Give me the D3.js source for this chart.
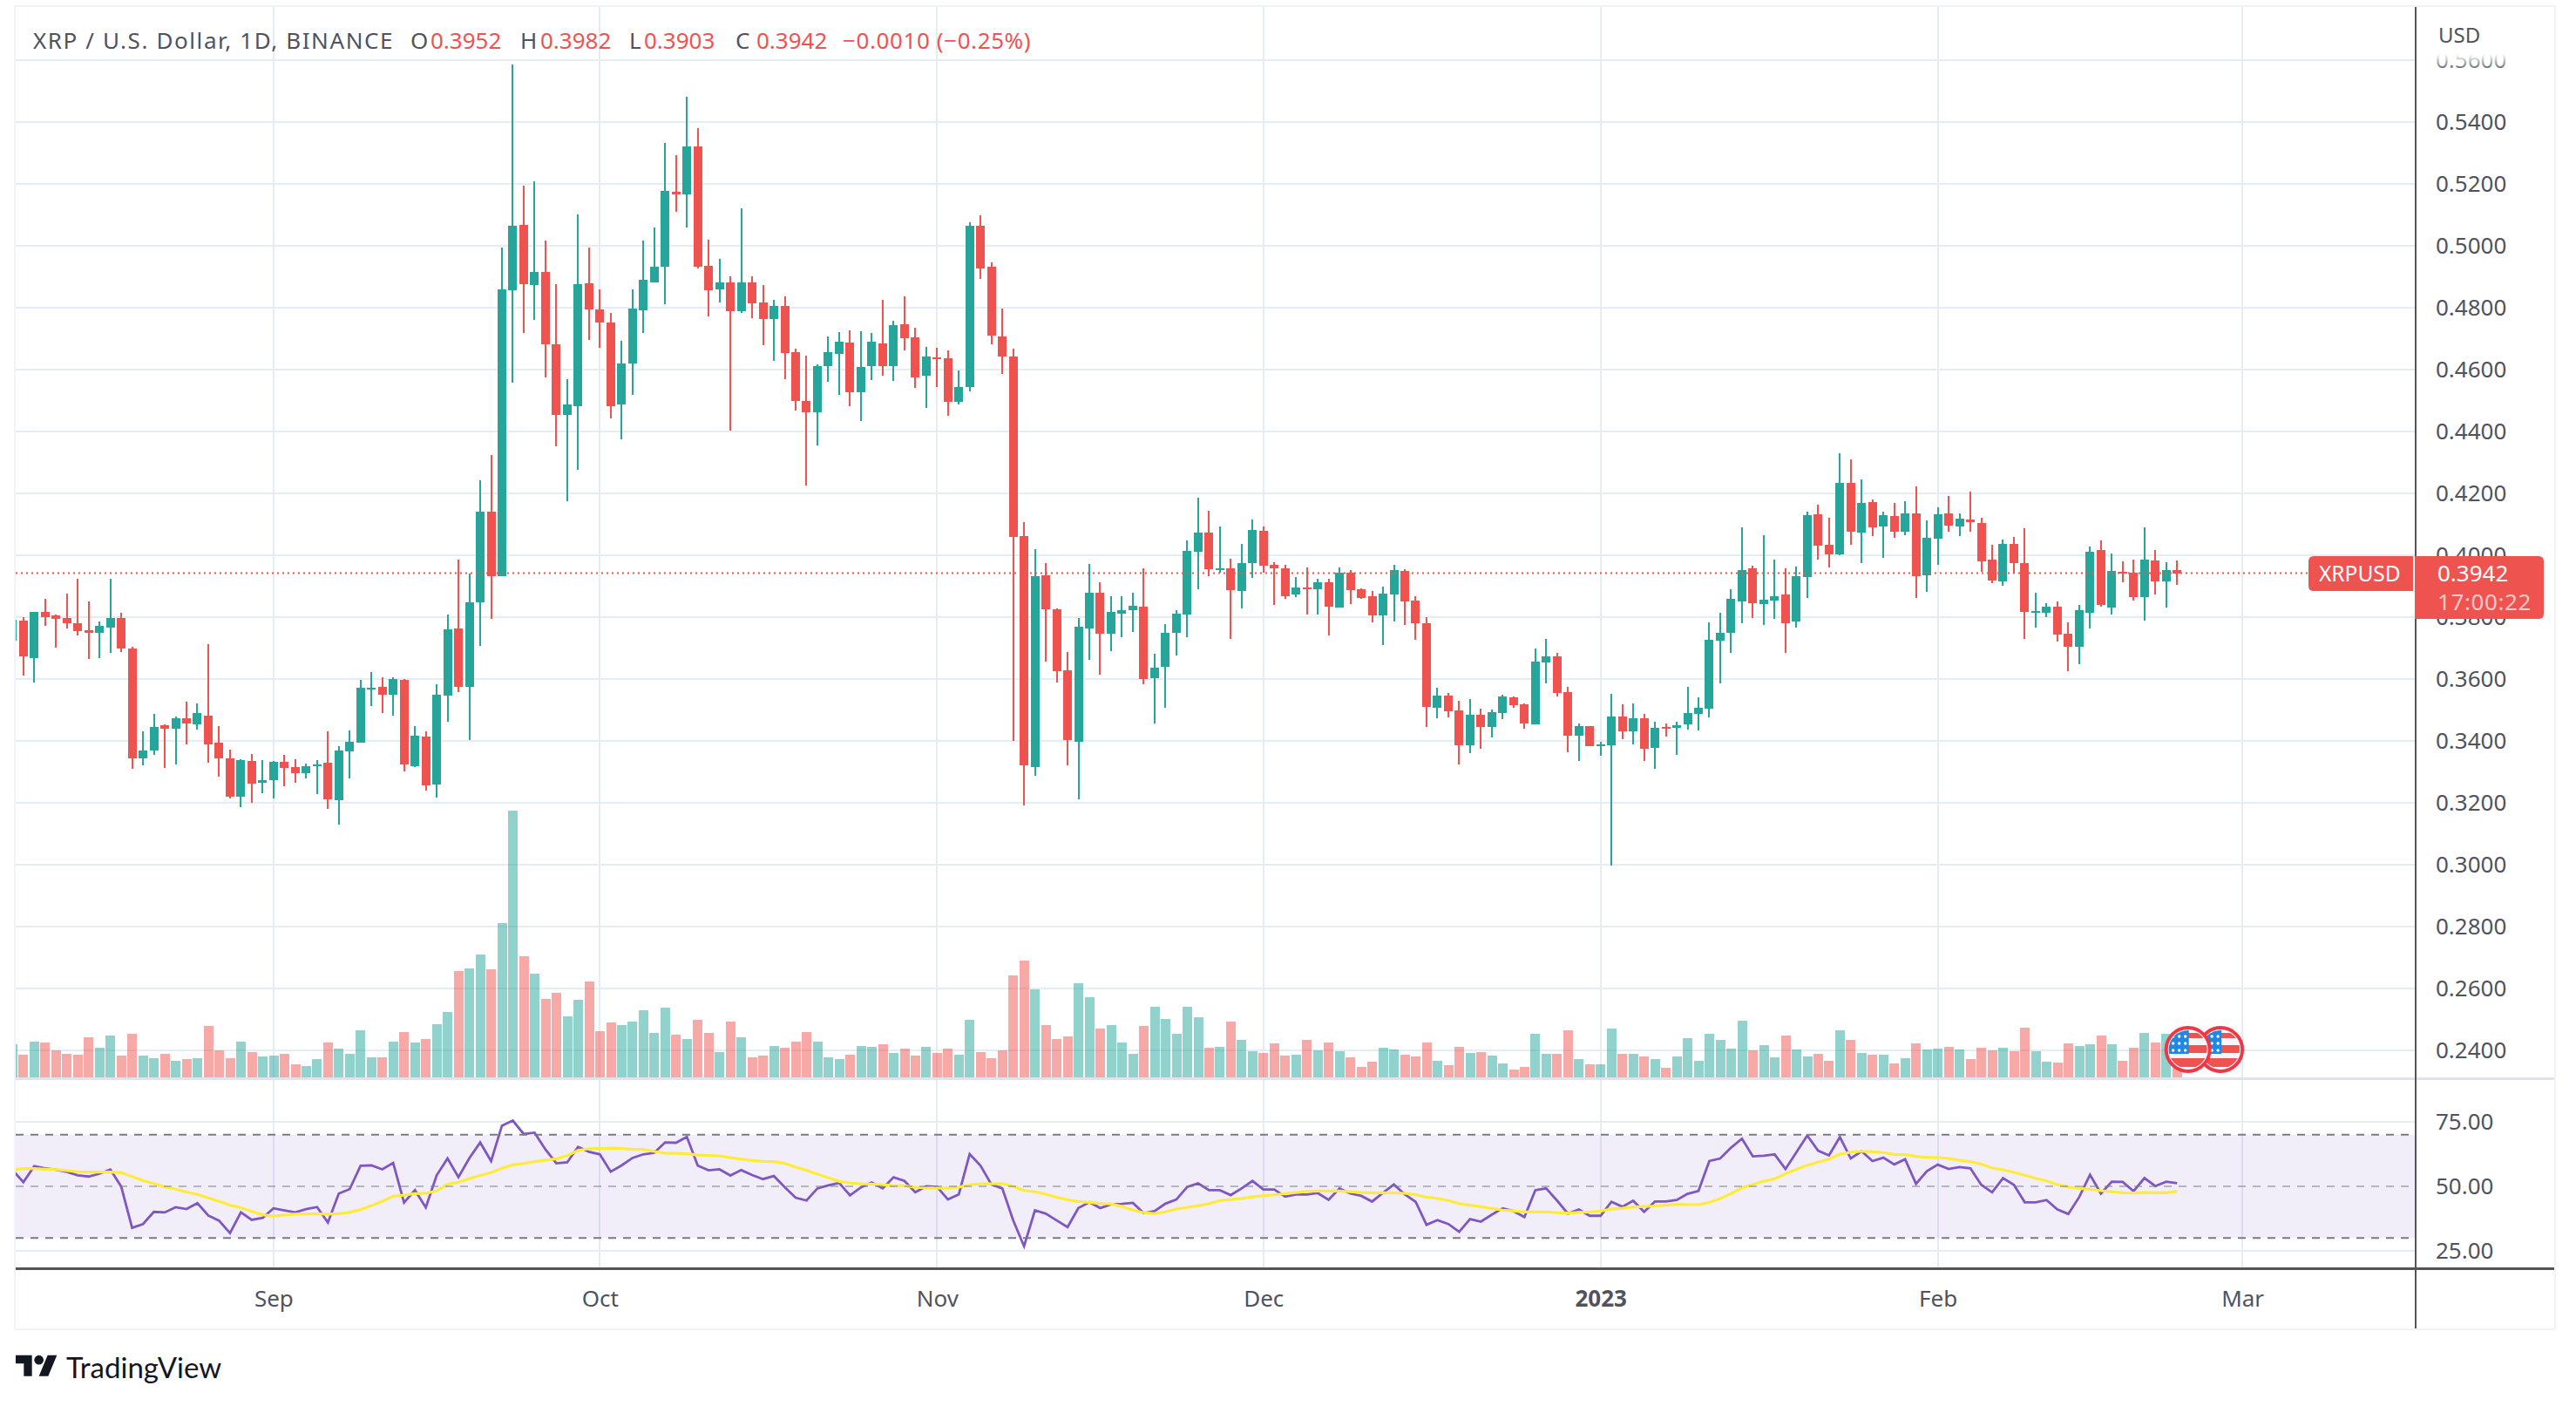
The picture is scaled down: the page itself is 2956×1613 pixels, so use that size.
<!DOCTYPE html>
<html><head><meta charset="utf-8">
<script src="https://cdn.jsdelivr.net/npm/d3@7/dist/d3.min.js"></script>
<style>html,body{margin:0;padding:0;background:#fff;overflow:hidden}svg{display:block}text{font-family:"Noto Sans",sans-serif}</style>
</head><body><svg id="c" width="2956" height="1613"></svg>
<script>
const firstDay = "2022-08-08";
const opens = [
.3723,.3789,.3667,.3816,.3805,.3796,.3780,.3757,.3750,.3766,
.3796,.3698,.3345,.3369,.3450,.3439,.3473,.3453,.3482,.3394,
.3345,.3221,.3335,.3266,.3274,.3333,.3315,.3295,.3320,.3329,
.3209,.3365,.3394,.3565,.3574,.3548,.3597,.3319,.3414,.3259,
.3547,.3762,.3574,.3849,.4141,.3933,.4856,.5067,.4873,.4915,
.4681,.4453,.4481,.4878,.4794,.4751,.4487,.4621,.4791,.4881,
.4931,.5174,.5166,.5322,.4936,.4859,.4881,.4788,.4883,.4817,
.4762,.4807,.4655,.4500,.4461,.4610,.4650,.4686,.4526,.4610,
.4684,.4610,.4746,.4703,.4579,.4640,.4636,.4495,.4543,.5064,
.4932,.4706,.4641,.4062,.3315,.3935,.3825,.3627,.3397,.3763,
.3880,.3746,.3811,.3822,.3833,.3602,.3639,.3748,.3808,.4011,
.4072,.3954,.3959,.3884,.3974,.4078,.3969,.3958,.3873,.3896,
.3890,.3913,.3831,.3944,.3890,.3868,.3806,.3873,.3949,.3854,
.3780,.3507,.3546,.3499,.3386,.3484,.3445,.3490,.3541,.3518,
.3453,.3654,.3673,.3558,.3417,.3448,.3382,.3386,.3479,.3431,
.3473,.3377,.3445,.3443,.3453,.3487,.3504,.3724,.3749,.3851,
.3958,.3842,.3854,.3873,.3786,.3930,.4132,.4034,.4003,.4234,
.4073,.4172,.4093,.4127,.4076,.4135,.3935,.4054,.4135,.4093,
.4115,.4104,.3986,.3915,.4037,.3975,.3814,.3814,.3834,.3746,
.3704,.3814,.4017,.3831,.3946,.3944,.3865,.3983,.3915,.3952];
const highs = [
.3805,.3800,.3816,.3859,.3809,.3875,.3924,.3850,.3786,.3924,
.3814,.3705,.3430,.3487,.3453,.3478,.3527,.3522,.3712,.3448,
.3372,.3342,.3358,.3338,.3335,.3354,.3340,.3326,.3338,.3430,
.3383,.3433,.3597,.3622,.3606,.3606,.3601,.3448,.3430,.3583,
.3809,.3985,.3940,.4242,.4325,.4995,.5586,.5194,.5209,.5016,
.4875,.4568,.5101,.4993,.4859,.4783,.4692,.4859,.5016,.5058,
.5331,.5292,.5482,.5379,.5019,.4957,.4901,.5121,.4901,.4872,
.4825,.4838,.4667,.4644,.4616,.4707,.4720,.4727,.4724,.4717,
.4825,.4758,.4837,.4734,.4672,.4670,.4662,.4597,.5076,.5100,
.4946,.4796,.4667,.4107,.4021,.3976,.3827,.3686,.3796,.3971,
.3912,.3868,.3868,.3878,.3959,.3681,.3777,.3822,.4047,.4186,
.4143,.4093,.3988,.4038,.4115,.4093,.3977,.3969,.3930,.3961,
.3924,.3924,.3961,.3952,.3893,.3885,.3899,.3969,.3955,.3868,
.3800,.3572,.3555,.3530,.3535,.3504,.3501,.3549,.3544,.3521,
.3699,.3730,.3684,.3575,.3456,.3448,.3397,.3552,.3518,.3521,
.3487,.3462,.3456,.3462,.3575,.3541,.3783,.3814,.3890,.4090,
.3966,.4065,.3986,.3958,.3963,.4141,.4163,.4121,.4330,.4310,
.4245,.4180,.4141,.4169,.4175,.4223,.4113,.4155,.4192,.4135,
.4206,.4121,.4034,.4051,.4059,.4087,.3879,.3845,.3851,.3783,
.3839,.4028,.4048,.4006,.3980,.3986,.4090,.4017,.3977,.3982];
const lows = [
.3700,.3611,.3588,.3771,.3701,.3762,.3741,.3665,.3667,.3685,
.3687,.3310,.3320,.3354,.3313,.3324,.3389,.3437,.3329,.3284,
.3214,.3186,.3200,.3230,.3214,.3254,.3265,.3279,.3229,.3180,
.3130,.3279,.3394,.3513,.3489,.3482,.3301,.3315,.3239,.3216,
.3462,.3557,.3403,.3707,.3795,.3933,.4558,.4718,.4761,.4576,
.4352,.4174,.4276,.4696,.4670,.4442,.4374,.4518,.4718,.4881,
.4810,.5111,.5058,.4927,.4772,.4818,.4402,.4783,.4765,.4678,
.4628,.4568,.4469,.4226,.4355,.4560,.4518,.4481,.4435,.4566,
.4579,.4562,.4662,.4540,.4476,.4543,.4450,.4487,.4529,.4892,
.4681,.4586,.3399,.3191,.3287,.3655,.3588,.3320,.3210,.3662,
.3614,.3689,.3734,.3751,.3583,.3456,.3507,.3675,.3734,.3890,
.3932,.3943,.3729,.3827,.3928,.3943,.3839,.3859,.3865,.3808,
.3808,.3741,.3831,.3842,.3859,.3783,.3710,.3786,.3775,.3727,
.3445,.3473,.3476,.3324,.3361,.3375,.3411,.3470,.3507,.3439,
.3453,.3586,.3544,.3363,.3335,.3383,.3352,.2997,.3406,.3389,
.3335,.3310,.3414,.3355,.3437,.3434,.3476,.3586,.3684,.3780,
.3797,.3775,.3794,.3684,.3766,.3862,.3986,.3961,.4000,.4034,
.3975,.4062,.3992,.4056,.4065,.3862,.3882,.3969,.4076,.4062,
.4076,.3946,.3910,.3901,.3941,.3730,.3766,.3800,.3721,.3625,
.3648,.3763,.3834,.3808,.3913,.3854,.3789,.3873,.3831,.3903];
const closes = [
.3791,.3672,.3816,.3800,.3795,.3780,.3755,.3750,.3771,.3796,
.3698,.3344,.3369,.3444,.3439,.3473,.3457,.3489,.3390,.3344,
.3220,.3338,.3261,.3274,.3333,.3313,.3295,.3319,.3324,.3211,
.3369,.3398,.3572,.3572,.3548,.3601,.3324,.3417,.3256,.3548,
.3760,.3574,.3849,.4141,.3933,.4858,.5065,.4876,.4916,.4681,
.4453,.4487,.4875,.4794,.4751,.4481,.4621,.4796,.4889,.4931,
.5177,.5167,.5322,.4931,.4856,.4881,.4788,.4883,.4814,.4762,
.4805,.4654,.4500,.4461,.4610,.4655,.4689,.4526,.4608,.4689,
.4610,.4743,.4701,.4576,.4641,.4635,.4495,.4545,.5064,.4926,
.4710,.4641,.4059,.3320,.3932,.3825,.3624,.3402,.3768,.3880,
.3746,.3816,.3822,.3836,.3600,.3636,.3748,.3811,.4014,.4072,
.3954,.3959,.3887,.3976,.4081,.3966,.3958,.3868,.3896,.3890,
.3913,.3834,.3943,.3887,.3862,.3806,.3876,.3952,.3851,.3780,
.3510,.3546,.3496,.3386,.3484,.3445,.3493,.3544,.3515,.3456,
.3656,.3673,.3555,.3417,.3448,.3383,.3388,.3479,.3431,.3473,
.3375,.3442,.3439,.3451,.3490,.3507,.3727,.3749,.3859,.3952,
.3845,.3856,.3868,.3780,.3932,.4130,.4031,.4003,.4234,.4076,
.4169,.4090,.4130,.4076,.4135,.3932,.4056,.4132,.4096,.4118,
.4107,.3980,.3918,.4037,.3975,.3817,.3820,.3834,.3744,.3704,
.3823,.4011,.3839,.3949,.3941,.3865,.3986,.3915,.3952,.3942];
const volumes = [
115,78,123,120,93,81,78,138,102,144,
75,150,75,66,81,57,63,66,177,93,
66,123,87,72,75,81,45,39,63,120,
99,81,162,69,69,123,156,120,132,183,
225,366,375,423,372,531,918,417,357,270,
291,210,267,330,159,189,180,192,231,153,
240,147,132,198,153,87,192,138,69,75,
108,102,123,156,123,69,63,78,108,105,
114,84,99,75,105,84,99,78,198,87,
66,93,351,402,303,180,132,141,324,276,
168,180,120,81,177,243,201,150,243,207,
102,105,192,129,90,84,117,75,78,129,
93,120,90,69,36,54,102,96,78,72,
120,57,42,105,84,87,75,48,27,36,
150,81,81,162,63,45,45,168,81,81,
72,63,33,72,135,57,150,129,99,195,
93,111,69,144,96,72,81,57,162,129,
84,78,78,48,66,117,96,99,105,96,
63,102,93,102,90,171,90,54,51,117,
108,114,144,114,57,102,153,120,150,63];
const rsi = [
56.4,51.6,57.8,57.0,56.5,55.6,54.3,53.8,54.9,56.5,
49.9,33.9,35.4,40.1,39.9,41.9,41.2,43.5,38.7,36.7,
31.9,39.9,37.0,37.8,41.5,40.7,39.9,41.2,42.0,36.0,
47.2,48.9,58.0,58.1,56.6,59.1,43.7,48.5,41.8,54.3,
60.8,53.6,60.9,67.0,59.8,73.5,75.5,70.3,70.8,64.3,
58.9,59.3,65.3,63.4,62.4,55.7,58.1,61.0,62.4,63.0,
67.0,66.9,69.2,58.0,56.2,56.6,54.2,56.3,54.4,52.8,
54.0,49.7,45.6,44.5,49.2,50.4,51.3,46.5,49.6,51.5,
49.2,53.5,52.1,47.7,50.0,49.8,44.9,46.9,62.5,58.0,
50.7,49.2,36.8,26.8,40.7,39.4,36.8,34.2,41.6,43.8,
41.6,43.0,43.2,43.6,39.6,40.4,43.3,44.9,49.8,51.2,
48.5,48.5,46.6,49.2,52.1,48.8,48.8,46.0,46.8,46.8,
47.4,44.8,49.2,47.2,46.3,44.1,47.5,50.7,46.9,44.0,
35.1,36.9,35.4,32.4,37.3,36.3,39.0,41.5,40.4,38.1,
48.5,49.2,44.5,39.4,41.0,38.6,38.6,44.0,42.1,44.4,
40.1,44.1,44.1,44.7,47.1,48.2,59.8,60.8,65.0,68.5,
61.6,61.9,62.4,56.7,63.2,69.7,63.8,62.0,69.1,60.8,
63.6,59.8,61.1,58.5,60.5,51.0,55.9,58.4,56.7,57.5,
57.0,50.6,47.7,53.2,50.6,43.8,43.8,44.7,41.0,39.3,
45.8,54.5,47.2,51.8,51.7,48.1,53.2,50.1,51.8,51.2];
const rsiMA = [
56.4,56.9,56.9,56.6,56.5,56.1,55.7,55.5,55.5,55.5,
55.3,53.8,52.2,51.1,49.8,48.9,47.8,46.9,45.5,44.2,
42.7,41.7,40.3,39.0,38.5,38.9,39.2,39.3,39.3,39.2,
39.4,39.9,41.0,42.6,44.2,46.2,46.6,47.2,47.3,48.2,
50.8,51.6,53.0,54.2,55.3,57.0,58.3,58.9,59.6,60.2,
60.7,61.9,63.9,64.6,64.7,64.8,64.7,64.3,64.3,63.5,
62.9,62.8,62.6,62.1,62.0,61.8,61.1,60.6,60.0,59.7,
59.6,58.9,57.4,56.2,54.7,53.4,51.9,51.3,51.0,50.9,
50.6,50.3,50.2,49.7,49.4,49.4,49.3,49.7,50.6,51.0,
51.0,51.1,50.0,48.4,47.9,46.9,45.8,44.8,44.1,43.8,
43.4,43.2,42.2,40.8,39.8,39.4,40.1,41.2,41.8,42.5,
43.3,44.5,44.9,45.3,45.9,46.4,46.7,47.2,47.6,48.0,
48.2,48.2,48.2,47.9,47.6,47.5,47.5,47.5,47.3,46.8,
45.8,45.3,44.5,43.3,42.7,42.1,41.4,40.8,40.5,40.1,
40.1,40.1,39.8,39.6,39.9,40.1,40.4,41.2,41.5,42.0,
42.2,42.4,42.7,43.0,42.9,42.9,43.8,45.3,47.2,49.4,
50.7,52.0,52.9,54.9,56.6,58.2,59.4,60.5,62.5,63.2,
63.6,63.4,63.1,62.4,62.3,61.6,61.2,61.2,60.8,60.1,
59.6,58.6,57.1,56.4,55.4,54.3,53.1,52.1,50.7,49.8,
49.2,48.9,48.3,47.9,47.5,47.4,47.6,47.5,47.5,48.1];
const priceTicks = [.24,.26,.28,.30,.32,.34,.36,.38,.40,.42,.44,.46,.48,.50,.52,.54,.56];
const rsiTicks = [25,50,75];
const rsiLevels = [70,50,30];
const timeTicks = ["2022-09-01","2022-10-01","2022-11-01","2022-12-01","2023-01-01","2023-02-01","2023-03-01"];
const timeLabels = ["Sep","Oct","Nov","Dec","2023","Feb","Mar"];
const eventDays = ["2023-02-27","2023-02-24"];
const lastPrice = 0.3942;
const legendHead = "XRP / U.S. Dollar, 1D, BINANCE";
const legendOHLC = [["O","0.3952"],["H","0.3982"],["L","0.3903"],["C","0.3942"]];
const legendChange = "\u22120.0010 (\u22120.25%)";

const UP="#26a69a",DOWN="#ef5350",GRID="#e4edf4",AXIS="#50535e",TXT="#50535e",BORDER="#f0f3fa";
const fs=26;
const L=18,R=2771,RR=2931,T=8,B=1524;
const day=s=>new Date(s+"T00:00:00Z");
const t0=day(firstDay);
const dates=opens.map((_,i)=>d3.utcDay.offset(t0,i));
const x=d3.scaleUtc().domain([t0,day("2023-03-01")]).range([14.3,2573.1]);
const y=d3.scaleLinear().domain([.30,.42]).range([992,566]);
const yV=d3.scaleLinear().domain([0,918]).range([1236,930]);
const yR=d3.scaleLinear().domain([25,75]).range([1435,1287]);
const svg=d3.select("#c");
const defs=svg.append("defs");
defs.append("clipPath").attr("id","plot").append("rect").attr("x",L).attr("y",T).attr("width",R-L).attr("height",B-T);
const g=defs.append("linearGradient").attr("id","fade").attr("x1",0).attr("x2",0).attr("y1",0).attr("y2",1);
g.append("stop").attr("offset",0).attr("stop-color","#fff").attr("stop-opacity",1);
g.append("stop").attr("offset",1).attr("stop-color","#fff").attr("stop-opacity",0);

// grid
const grid=svg.append("g").attr("stroke",GRID).attr("stroke-width",2).attr("shape-rendering","crispEdges");
grid.selectAll(".gh").data(priceTicks).join("line").attr("x1",L).attr("x2",R).attr("y1",d=>y(d)).attr("y2",d=>y(d));
grid.selectAll(".gr").data(rsiTicks.filter(d=>d!=50)).join("line").attr("x1",L).attr("x2",R).attr("y1",d=>yR(d)).attr("y2",d=>yR(d));
grid.selectAll(".gv").data(timeTicks).join("line").attr("y1",T).attr("y2",1455).attr("x1",d=>x(day(d))).attr("x2",d=>x(day(d)));

// RSI band
svg.append("rect").attr("x",L).attr("width",R-L).attr("y",yR(70)).attr("height",yR(30)-yR(70)).attr("fill","#7e57c2").attr("fill-opacity",.1);

const plot=svg.append("g").attr("clip-path","url(#plot)");
// volume
plot.append("g").attr("shape-rendering","crispEdges").selectAll("rect").data(volumes).join("rect")
 .attr("x",(d,i)=>Math.round(x(dates[i])-5.3)).attr("width",11)
 .attr("y",d=>yV(d)).attr("height",d=>yV(0)-yV(d))
 .attr("fill",(d,i)=>closes[i]>=opens[i]?UP:DOWN).attr("fill-opacity",.5);
// candles
const cg=plot.append("g").attr("shape-rendering","crispEdges");
const col=i=>closes[i]>=opens[i]?UP:DOWN;
cg.selectAll(".w").data(opens).join("rect")
 .attr("x",(d,i)=>Math.round(x(dates[i])-1)).attr("width",2)
 .attr("y",(d,i)=>y(highs[i])).attr("height",(d,i)=>y(lows[i])-y(highs[i])).attr("fill",(d,i)=>col(i));
cg.selectAll(".b").data(opens).join("rect")
 .attr("x",(d,i)=>Math.round(x(dates[i])-1)-4).attr("width",10)
 .attr("y",(d,i)=>y(Math.max(d,closes[i]))).attr("height",(d,i)=>Math.max(2,Math.abs(y(d)-y(closes[i])))).attr("fill",(d,i)=>col(i));
// last price line
svg.append("line").attr("x1",L).attr("x2",2649).attr("y1",y(lastPrice)).attr("y2",y(lastPrice))
 .attr("stroke",DOWN).attr("stroke-width",2).attr("stroke-dasharray","2 4");

// RSI levels
svg.append("g").selectAll("line").data(rsiLevels).join("line").attr("x1",L).attr("x2",R)
 .attr("y1",d=>yR(d)).attr("y2",d=>yR(d)).attr("stroke","#787b86").attr("stroke-width",2)
 .attr("stroke-opacity",d=>d==50?.5:1).attr("stroke-dasharray","9 8");
const ln=d3.line().x((d,i)=>x(dates[i])).y(d=>yR(d));
plot.append("path").attr("d",ln(rsi)).attr("fill","none").attr("stroke","#7e57c2").attr("stroke-width",2.8);
plot.append("path").attr("d",ln(rsiMA)).attr("fill","none").attr("stroke","#ffeb3b").attr("stroke-width",3.2);

// event flags
const fl=svg.append("g");
eventDays.forEach((s,k)=>{
 const cx=x(day(s)),cy=1204,r=25;
 const gf=fl.append("g").attr("transform",`translate(${cx},${cy})`);
 const id="fc"+k;
 defs.append("clipPath").attr("id",id).append("circle").attr("r",r-3);
 const inner=gf.append("g").attr("clip-path",`url(#${id})`);
 gf.insert("circle",":first-child").attr("r",r).attr("fill","#fff").attr("stroke","#f23645").attr("stroke-width",4);
 inner.append("rect").attr("x",-r).attr("y",-r).attr("width",2*r).attr("height",2*r).attr("fill","#f7f7fb");
 [[-19,6],[-5,9],[10,10]].forEach(b=>inner.append("rect").attr("x",-r).attr("y",b[0]).attr("width",2*r).attr("height",b[1]).attr("fill","#f0524f"));
 inner.append("rect").attr("x",-r).attr("y",-r).attr("width",r+1).attr("height",r+5).attr("fill","#1e88e5");
 for(let a=0;a<3;a++)for(let b=0;b<3;b++)
  inner.append("circle").attr("cx",-17+b*7).attr("cy",-15+a*8).attr("r",1.7).attr("fill","#fff");
});

// frame & axes
const frame=svg.append("g").attr("shape-rendering","crispEdges");
frame.append("rect").attr("x",L-1).attr("y",T-1).attr("width",RR-L+2).attr("height",B-T+2).attr("fill","none").attr("stroke",BORDER).attr("stroke-width",2);
frame.append("line").attr("x1",L).attr("x2",RR).attr("y1",1237.5).attr("y2",1237.5).attr("stroke","#e0e3eb").attr("stroke-width",3);
frame.append("line").attr("x1",L).attr("x2",RR).attr("y1",1455.5).attr("y2",1455.5).attr("stroke","#555").attr("stroke-width",3);
frame.append("line").attr("x1",R+.5).attr("x2",R+.5).attr("y1",T).attr("y2",B).attr("stroke","#555").attr("stroke-width",2);

const pa=svg.append("g").attr("transform","translate(2795,0)")
 .call(d3.axisRight(y).tickValues(priceTicks).tickFormat(d3.format(".4f")).tickSize(0).tickPadding(0));
const ra=svg.append("g").attr("transform","translate(2795,0)")
 .call(d3.axisRight(yR).tickValues(rsiTicks).tickFormat(d3.format(".2f")).tickSize(0).tickPadding(0));
const ta=svg.append("g").attr("transform","translate(0,1481)")
 .call(d3.axisBottom(x).tickValues(timeTicks.map(day)).tickFormat((d,i)=>timeLabels[i]).tickSize(0).tickPadding(0));
[pa,ra,ta].forEach(a=>{a.select(".domain").remove();
 a.selectAll("text").attr("font-family",'"Noto Sans",sans-serif').attr("font-size",fs).attr("fill",TXT);});
ta.selectAll("text").filter(d=>+d==+day("2023-01-01")).attr("font-weight",700);
// fade top of scale
svg.append("rect").attr("x",R+2).attr("y",T).attr("width",RR-R-2).attr("height",54).attr("fill","#fff");
svg.append("rect").attr("x",R+2).attr("y",62).attr("width",RR-R-2).attr("height",20).attr("fill","url(#fade)");
svg.append("text").attr("x",2798).attr("y",49).attr("font-size",24).attr("fill",TXT).text("USD");

// price labels
const rr=(x0,y0,w,h,rl,rt)=>`M${x0+rl},${y0}H${x0+w-rt}Q${x0+w},${y0} ${x0+w},${y0+rt}V${y0+h-rt}Q${x0+w},${y0+h} ${x0+w-rt},${y0+h}H${x0+rl}Q${x0},${y0+h} ${x0},${y0+h-rl}V${y0+rl}Q${x0},${y0} ${x0+rl},${y0}Z`;
svg.append("path").attr("d",rr(2649,638,120,40,6,0)).attr("fill",DOWN);
svg.append("path").attr("d",rr(2771,638,148,72,0,6)).attr("fill",DOWN);
svg.append("text").attr("x",2661).attr("y",667).attr("font-size",24.5).attr("fill","#fff").text("XRPUSD");
svg.append("text").attr("x",2797).attr("y",667).attr("font-size",fs).attr("fill","#fff").text(d3.format(".4f")(lastPrice));
svg.append("text").attr("x",2797).attr("y",700).attr("font-size",fs).attr("letter-spacing",.6).attr("fill","#fff").attr("fill-opacity",.7).text("17:00:22");

// legend
const lg=svg.append("text").attr("x",38).attr("y",56).attr("font-size",fs).attr("fill",TXT);
lg.append("tspan").attr("letter-spacing",1.6).text(legendHead);
const lx=[471,597,722,844],vx=[494,620,739,868];
legendOHLC.forEach((p,i)=>{
 lg.append("tspan").attr("x",lx[i]).attr("letter-spacing",0).text(p[0]);
 lg.append("tspan").attr("x",vx[i]).attr("fill",DOWN).text(p[1]);
});
lg.append("tspan").attr("x",967).attr("fill",DOWN).attr("letter-spacing",.6).text(legendChange);

// logo
const logo=svg.append("g").attr("transform","translate(18,1549.5) scale(1.333)").attr("fill","#131722");
logo.append("path").attr("d","M14 22H7V11H0V4h14v18zM28 22h-8l7.5-18h8L28 22z");
logo.append("circle").attr("cx",20).attr("cy",8).attr("r",4);
svg.append("text").attr("x",76).attr("y",1581).attr("font-size",33).attr("font-family","Lato").style("font-family","Lato").attr("fill","#131722").text("TradingView");
</script></body></html>
